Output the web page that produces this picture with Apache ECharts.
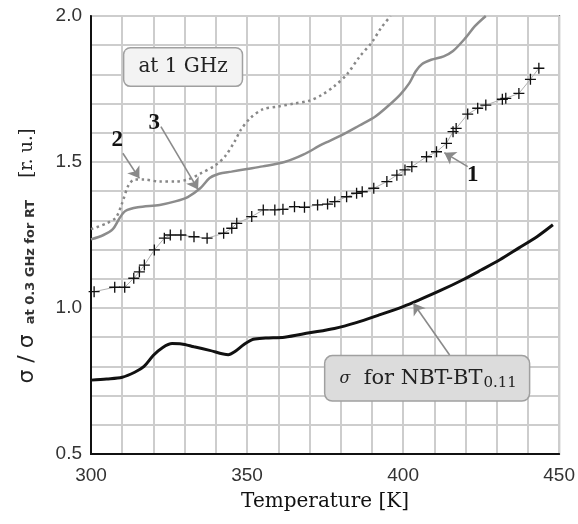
<!DOCTYPE html>
<html><head><meta charset="utf-8">
<script src="https://cdn.jsdelivr.net/npm/echarts@6/dist/echarts.min.js"></script>
<style>html,body{margin:0;padding:0;background:#fff}#c{width:578px;height:524px}</style>
</head><body><div id="c"></div>
<script>
// ---- data ----
const xTickLabels = [300, 350, 400, 450];
const yTickLabels = [0.5, 1.0, 1.5, 2.0];

// curve 1 (crosses)
const s1T = [301.0,307.6,310.8,313.7,315.5,317.1,320.3,323.5,325.4,328.8,333.0,337.2,342.5,345.1,346.7,351.5,355.2,358.9,361.5,365.2,368.4,372.6,375.8,378.1,381.9,385.1,386.9,390.6,394.8,398.0,400.6,402.8,407.5,410.7,413.9,416.0,417.0,420.7,423.9,426.5,431.8,432.9,437.1,440.8,443.5];
const s1V = [1.056,1.071,1.071,1.102,1.124,1.147,1.199,1.239,1.250,1.250,1.244,1.239,1.256,1.273,1.290,1.313,1.336,1.336,1.338,1.347,1.345,1.353,1.356,1.364,1.381,1.393,1.398,1.410,1.433,1.455,1.473,1.484,1.518,1.535,1.564,1.604,1.615,1.664,1.684,1.695,1.715,1.718,1.735,1.783,1.821];

// curve 2 (dotted)
const s2T = [300,305,308,310,312,314,317,322,327,331,335,340,343,346,348,351,355,360,365,370,374,378,382,386,390,393,396];
const s2V = [1.27,1.29,1.31,1.36,1.42,1.44,1.44,1.433,1.433,1.44,1.46,1.49,1.52,1.57,1.61,1.65,1.68,1.69,1.70,1.71,1.73,1.76,1.80,1.86,1.91,1.96,2.00];

// curve 3 (grey solid)
const s3T = [300,304,307,309,311,315,322,327,331,335,338,341,345,350,355,362,368,374,380,386,391,395,399,402,404,406,409,413,416,420,423,426.5];
const s3V = [1.235,1.25,1.27,1.305,1.332,1.345,1.353,1.365,1.38,1.41,1.445,1.46,1.467,1.476,1.485,1.50,1.525,1.56,1.59,1.625,1.655,1.69,1.73,1.77,1.81,1.835,1.85,1.862,1.88,1.925,1.965,2.00];

// sigma for NBT-BT0.11 (black)
const s4T = [300,305,310,314,317,320,323,326,329,333,338,344,346,349,352,356,362,370,378,385,392,400,405,412,419,425,431,437,443,448];
const s4V = [0.753,0.757,0.763,0.78,0.80,0.838,0.865,0.878,0.877,0.867,0.855,0.84,0.85,0.875,0.893,0.897,0.90,0.915,0.93,0.95,0.975,1.005,1.027,1.06,1.096,1.13,1.165,1.205,1.245,1.285];

// annotations (data units)
const arrowFrom = [[420.7,1.484],[310.2,1.530],[322.4,1.621],[414.9,0.839]];
const arrowTo   = [[413.2,1.532],[315.5,1.444],[334.3,1.406],[403.3,1.016]];
const numLabels = ['1','2','3'];
const numAt     = [[422.3,1.455],[308.4,1.575],[320.3,1.635]];
const boxAt1GHz = [329.5,1.825];
const boxNBT    = [407.7,0.759];

const pairs = (T, V) => T.map((t, i) => [t, V[i]]);

const chart = echarts.init(document.getElementById('c'), null, {renderer: 'canvas'});

const serif = 'DejaVu Serif';
const crossPath = 'path://M4.4,0H5.6V4.4H10V5.6H5.6V10H4.4V5.6H0V4.4H4.4Z';

chart.setOption({
  animation: false,
  backgroundColor: '#ffffff',
  grid: {left: 91, right: 14, top: 16, bottom: 70, show: true, borderColor: '#777', borderWidth: 2, backgroundColor: 'transparent'},
  xAxis: {
    type: 'value', min: 300, max: 450, interval: 10,
    axisLine: {show: true, onZero: false, lineStyle: {color: '#111', width: 2}},
    axisTick: {show: false},
    splitLine: {show: true, lineStyle: {color: '#cdcdcd', width: 2}},
    axisLabel: {
      margin: 12, color: '#333', fontFamily: 'Liberation Sans', fontSize: 19,
      formatter: v => (xTickLabels.indexOf(Math.round(v)) >= 0 ? String(Math.round(v)) : '')
    },
    name: 'Temperature [K]', nameLocation: 'middle', nameGap: 38,
    nameTextStyle: {fontFamily: serif, fontSize: 20, color: '#111'}
  },
  yAxis: {
    type: 'value', min: 0.5, max: 2.0, interval: 0.1,
    axisLine: {show: true, onZero: false, lineStyle: {color: '#111', width: 2}},
    axisTick: {show: false},
    splitLine: {show: true, lineStyle: {color: '#cdcdcd', width: 2}},
    axisLabel: {
      margin: 9, color: '#333', fontFamily: 'Liberation Sans', fontSize: 19,
      formatter: v => {
        const r = Math.round(v * 10) / 10;
        return yTickLabels.some(t => Math.abs(t - r) < 1e-6) ? r.toFixed(1) : '';
      }
    }
  },
  graphic: [{
    type: 'text', x: 27, y: 256, rotation: Math.PI / 2,
    style: {
      text: '{s|σ / σ}{sub|at 0.3 GHz for RT}{u|[r. u.]}',
      align: 'center', verticalAlign: 'middle',
      rich: {
        s: {fontFamily: 'DejaVu Sans', fontSize: 22, fill: '#222', padding: [0, 10, 0, 0]},
        sub: {fontFamily: 'DejaVu Sans', fontSize: 13, fontWeight: 'bold', fill: '#333', padding: [7, 22, 0, 0]},
        u: {fontFamily: serif, fontSize: 18, fill: '#222'}
      }
    }
  }],
  series: [
    {
      name: '1', type: 'line', data: pairs(s1T, s1V),
      symbol: crossPath, symbolSize: 11, showSymbol: true,
      itemStyle: {color: '#111'},
      lineStyle: {color: '#b0b0b0', width: 1},
      z: 5
    },
    {
      name: '2', type: 'line', data: pairs(s2T, s2V), smooth: 0.3,
      symbol: 'none', lineStyle: {color: '#888888', width: 2.5, type: [2.5, 3.5]}, z: 4
    },
    {
      name: '3', type: 'line', data: pairs(s3T, s3V), smooth: 0.3,
      symbol: 'none', lineStyle: {color: '#8c8c8c', width: 2.5}, z: 4
    },
    {
      name: 'NBT', type: 'line', data: pairs(s4T, s4V), smooth: 0.3,
      symbol: 'none', lineStyle: {color: '#111111', width: 3}, z: 4,
      markLine: {
        silent: true, animation: false,
        symbol: ['none', 'arrow'], symbolSize: 11,
        label: {show: false},
        lineStyle: {color: '#8a8a8a', width: 1.6, type: 'solid'},
        itemStyle: {color: '#8a8a8a'},
        emphasis: {disabled: true},
        data: arrowFrom.map((f, i) => [{coord: f}, {coord: arrowTo[i]}])
      },
      markPoint: {
        silent: true, animation: false,
        data: numLabels.map((t, i) => ({
          coord: numAt[i], symbol: 'rect', symbolSize: 1,
          itemStyle: {color: 'rgba(0,0,0,0)'},
          label: {show: true, position: 'inside', formatter: t, fontFamily: 'Liberation Serif', fontWeight: 'bold', fontSize: 23, color: '#111'}
        })).concat([
          {
            coord: boxAt1GHz, symbol: 'rect', symbolSize: 1, itemStyle: {color: 'rgba(0,0,0,0)'},
            label: {
              show: true, position: 'inside', formatter: 'at 1 GHz',
              fontFamily: serif, fontSize: 20, color: '#222',
              backgroundColor: '#f3f3f3', borderColor: '#a0a0a0', borderWidth: 1.5, borderRadius: 6,
              padding: [9, 14, 8, 14]
            }
          },
          {
            coord: boxNBT, symbol: 'rect', symbolSize: 1, itemStyle: {color: 'rgba(0,0,0,0)'},
            label: {
              show: true, position: 'inside',
              formatter: '{g|σ}{t|  for NBT-BT}{b|0.11}',
              backgroundColor: '#dcdcdc', borderColor: '#a0a0a0', borderWidth: 1.5, borderRadius: 7,
              padding: [11, 12, 10, 14],
              rich: {
                g: {fontFamily: serif, fontStyle: 'italic', fontSize: 16, color: '#222'},
                t: {fontFamily: serif, fontSize: 21, color: '#222'},
                b: {fontFamily: serif, fontSize: 15, color: '#222', padding: [8, 0, 0, 1]}
              }
            }
          }
        ])
      }
    }
  ]
});
</script>
</body></html>
